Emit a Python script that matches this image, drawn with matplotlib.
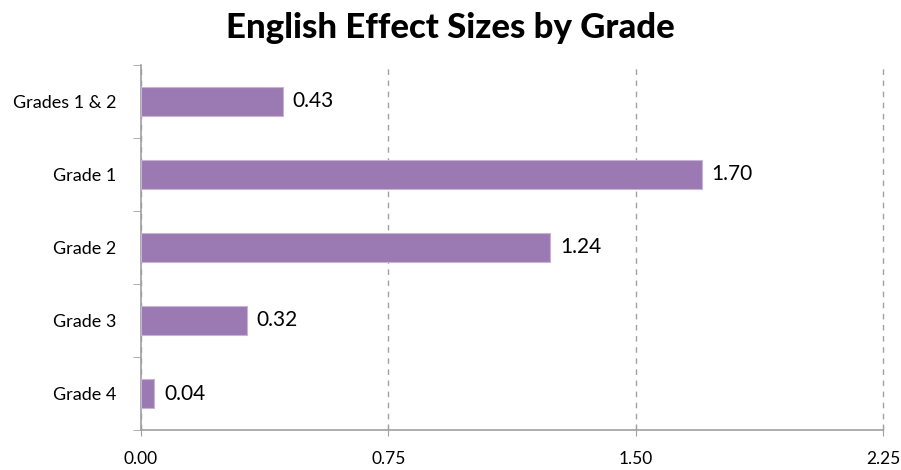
import matplotlib.pyplot as plt
import numpy as np

# English effect sizes by grade
grades = ['Grades 1 & 2', 'Grade 1', 'Grade 2', 'Grade 3', 'Grade 4']
effect_sizes = [0.43, 1.70, 1.24, 0.32, 0.04]
x_ticks = [0.00, 0.75, 1.50, 2.25]

plt.rcParams['font.family'] = ['Lato', 'DejaVu Sans']

fig = plt.figure(figsize=(9.01, 4.70), dpi=100)
ax = fig.add_axes([0.1565, 0.085, 0.8235, 0.777])

y = np.arange(len(grades))
bars = ax.barh(y, effect_sizes, height=0.4, color='#9b79b3',
               edgecolor='#c7b3d6', linewidth=0.8, zorder=3)

# value labels to the right of each bar
for yi, v in zip(y, effect_sizes):
    ax.text(v + 0.03, yi, f'{v:.2f}', va='center', ha='left',
            fontsize=15, color='black')

ax.set_xlim(0, 2.25)
ax.set_ylim(len(grades) - 0.5, -0.5)
ax.set_xticks(x_ticks)
ax.set_xticklabels([f'{t:.2f}' for t in x_ticks], fontsize=12.5)
ax.set_yticks(y)
ax.set_yticklabels(grades, fontsize=13)
ax.tick_params(axis='y', length=0, pad=18)
ax.tick_params(axis='x', direction='inout', length=8, color='#a0a0a0', pad=11)

# y ticks between categories
ax.set_yticks(np.arange(len(grades) + 1) - 0.5, minor=True)
ax.tick_params(axis='y', which='minor', length=6, color='#a0a0a0', direction='out')

ax.xaxis.grid(True, linestyle=(0, (4, 4)), color='#a0a0a0', linewidth=1, zorder=0)
for gl in ax.get_xgridlines():
    gl.set_clip_on(False)
for s in ['top', 'right']:
    ax.spines[s].set_visible(False)
for s in ['left', 'bottom']:
    ax.spines[s].set_color('#a0a0a0')
    ax.spines[s].set_linewidth(1.2)

fig.suptitle('English Effect Sizes by Grade', fontsize=25, fontweight='black',
             x=0.5, y=0.975)

plt.savefig('out.png', dpi=100)
